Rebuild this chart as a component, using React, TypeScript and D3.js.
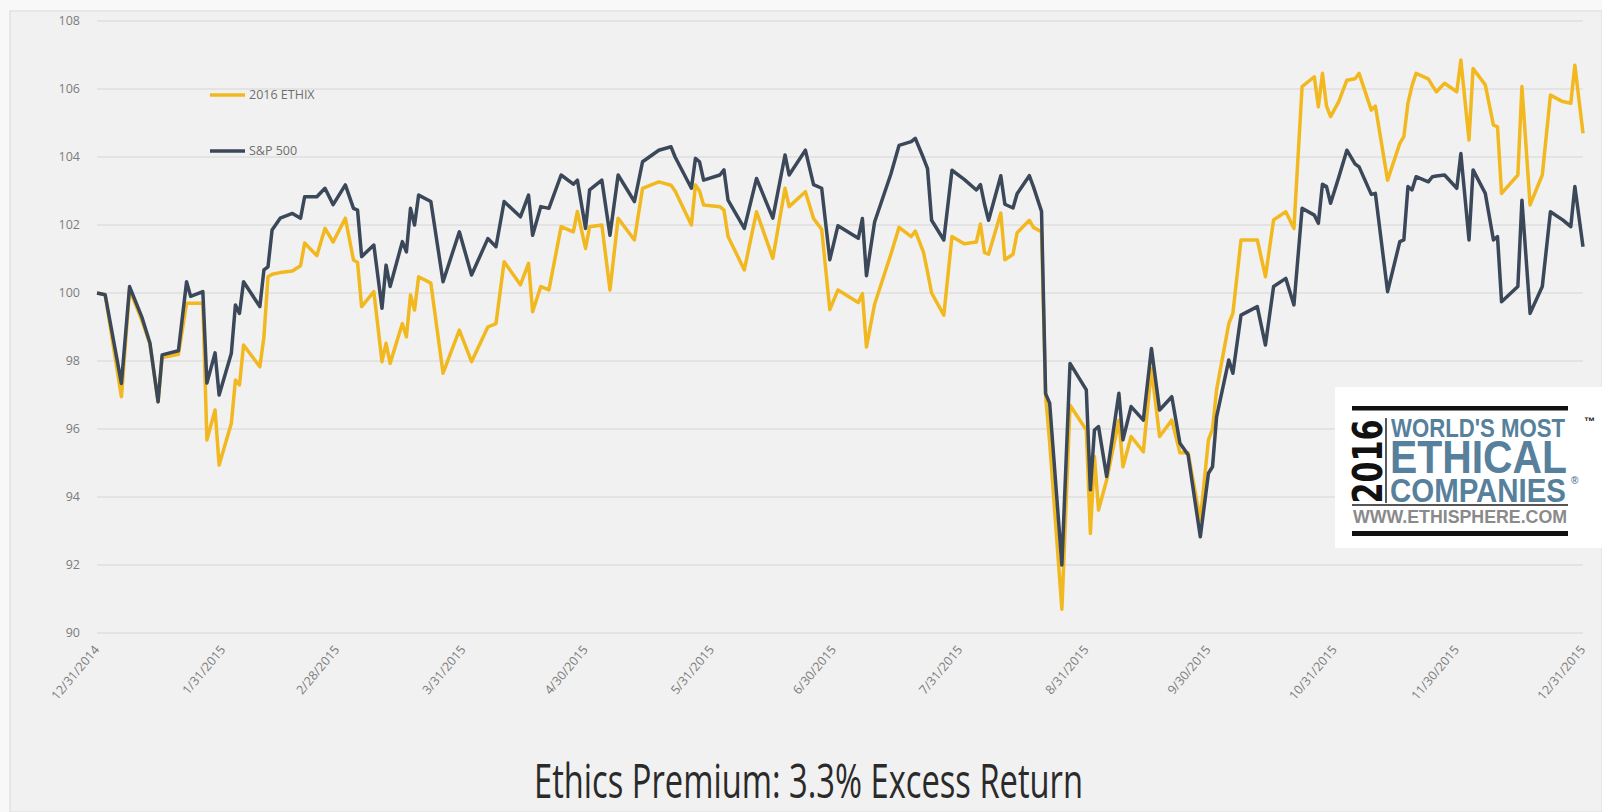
import React from 'react';
import * as d3 from 'd3';

const dates: string[] = [
  '2014-12-31','2015-01-02','2015-01-06','2015-01-08','2015-01-11','2015-01-13','2015-01-15','2015-01-16','2015-01-20','2015-01-22',
  '2015-01-23','2015-01-26','2015-01-27','2015-01-29','2015-01-30','2015-02-02','2015-02-03','2015-02-04','2015-02-05','2015-02-09',
  '2015-02-10','2015-02-11','2015-02-12','2015-02-14','2015-02-17','2015-02-19','2015-02-20','2015-02-23','2015-02-25','2015-02-27',
  '2015-03-02','2015-03-04','2015-03-05','2015-03-06','2015-03-09','2015-03-11','2015-03-12','2015-03-13','2015-03-16','2015-03-17',
  '2015-03-18','2015-03-19','2015-03-20','2015-03-23','2015-03-26','2015-03-30','2015-04-02','2015-04-06','2015-04-08','2015-04-10',
  '2015-04-14','2015-04-16','2015-04-17','2015-04-19','2015-04-21','2015-04-24','2015-04-27','2015-04-28','2015-04-30','2015-05-01',
  '2015-05-04','2015-05-06','2015-05-08','2015-05-12','2015-05-14','2015-05-18','2015-05-21','2015-05-22','2015-05-26','2015-05-27',
  '2015-05-28','2015-05-29','2015-06-02','2015-06-03','2015-06-04','2015-06-08','2015-06-11','2015-06-15','2015-06-18','2015-06-19',
  '2015-06-23','2015-06-25','2015-06-27','2015-06-29','2015-07-01','2015-07-06','2015-07-07','2015-07-08','2015-07-10','2015-07-14',
  '2015-07-16','2015-07-19','2015-07-20','2015-07-22','2015-07-23','2015-07-24','2015-07-27','2015-07-29','2015-08-01','2015-08-04',
  '2015-08-05','2015-08-06','2015-08-07','2015-08-10','2015-08-11','2015-08-13','2015-08-14','2015-08-17','2015-08-18','2015-08-20',
  '2015-08-21','2015-08-22','2015-08-25','2015-08-27','2015-08-31','2015-09-01','2015-09-02','2015-09-03','2015-09-05','2015-09-08',
  '2015-09-09','2015-09-11','2015-09-14','2015-09-16','2015-09-18','2015-09-21','2015-09-23','2015-09-25','2015-09-28','2015-09-30',
  '2015-10-01','2015-10-02','2015-10-05','2015-10-06','2015-10-08','2015-10-12','2015-10-14','2015-10-16','2015-10-19','2015-10-21',
  '2015-10-23','2015-10-26','2015-10-27','2015-10-28','2015-10-29','2015-10-30','2015-11-01','2015-11-03','2015-11-05','2015-11-06',
  '2015-11-09','2015-11-10','2015-11-13','2015-11-16','2015-11-17','2015-11-18','2015-11-19','2015-11-20','2015-11-23','2015-11-24',
  '2015-11-25','2015-11-27','2015-11-30','2015-12-01','2015-12-03','2015-12-04','2015-12-07','2015-12-09','2015-12-10','2015-12-11',
  '2015-12-15','2015-12-16','2015-12-18','2015-12-21','2015-12-23','2015-12-26','2015-12-28','2015-12-29','2015-12-31',
];

const ethix: number[] = [
  100.0, 99.95, 96.95, 100.1, 99.2, 98.5, 96.8, 98.1, 98.2, 99.7,
  99.7, 99.7, 95.68, 96.56, 94.94, 96.17, 97.44, 97.3, 98.47, 97.83,
  98.7, 100.48, 100.55, 100.6, 100.65, 100.8, 101.47, 101.1, 101.9, 101.5,
  102.2, 100.97, 100.9, 99.6, 100.04, 97.98, 98.52, 97.93, 99.1, 98.71,
  99.94, 99.5, 100.48, 100.29, 97.64, 98.91, 97.98, 99.0, 99.1, 100.92,
  100.24, 100.87, 99.45, 100.19, 100.09, 101.95, 101.8, 102.4, 101.31, 101.95,
  102.0, 100.09, 102.2, 101.56, 103.08, 103.27, 103.17, 103.0, 102.0, 103.18,
  103.0, 102.59, 102.54, 102.44, 101.66, 100.68, 102.39, 101.02, 103.08, 102.54,
  102.98, 102.19, 101.87, 99.51, 100.09, 99.72, 99.98, 98.41, 99.67, 101.14,
  101.93, 101.66, 101.82, 101.2, 100.62, 100.0, 99.35, 101.66, 101.45, 101.5,
  102.03, 101.19, 101.14, 102.35, 100.98, 101.14, 101.77, 102.14, 101.93, 101.8,
  97.0, 95.6, 90.7, 96.7, 95.97, 92.93, 95.19, 93.62, 94.5, 96.26,
  94.89, 95.78, 95.33, 97.78, 95.78, 96.26, 95.3, 95.3, 93.32, 95.68,
  96.0, 97.15, 99.1, 99.4, 101.56, 101.56, 100.48, 102.15, 102.39, 101.9,
  106.07, 106.36, 105.48, 106.46, 105.5, 105.19, 105.63, 106.26, 106.3, 106.46,
  105.38, 105.5, 103.32, 104.4, 104.6, 105.58, 106.1, 106.46, 106.3, 106.1,
  105.92, 106.17, 105.92, 106.85, 104.5, 106.6, 106.12, 104.94, 104.89, 102.93,
  103.47, 106.07, 102.59, 103.47, 105.82, 105.63, 105.58, 106.7, 104.7,
];

const sp500: number[] = [
  100.0, 99.95, 97.34, 100.19, 99.3, 98.53, 96.8, 98.18, 98.3, 100.33,
  99.9, 100.04, 97.35, 98.24, 97.0, 98.23, 99.65, 99.4, 100.33, 99.6,
  100.68, 100.77, 101.85, 102.2, 102.34, 102.2, 102.83, 102.83, 103.08, 102.6,
  103.18, 102.49, 102.44, 101.07, 101.41, 99.55, 100.82, 100.19, 101.51, 101.21,
  102.49, 102.0, 102.88, 102.69, 100.33, 101.8, 100.53, 101.6, 101.36, 102.69,
  102.24, 102.88, 101.7, 102.54, 102.49, 103.47, 103.2, 103.32, 101.9, 103.03,
  103.32, 101.7, 103.47, 102.69, 103.86, 104.2, 104.3, 104.0, 103.08, 103.96,
  103.86, 103.32, 103.47, 103.62, 102.73, 101.9, 103.37, 102.2, 104.06, 103.47,
  104.2, 103.19, 103.08, 100.98, 101.98, 101.61, 102.19, 100.51, 102.09, 103.5,
  104.34, 104.45, 104.55, 103.97, 103.66, 102.14, 101.56, 103.61, 103.34, 103.03,
  103.19, 102.61, 102.14, 103.45, 102.61, 102.5, 102.92, 103.45, 103.13, 102.4,
  97.04, 96.76, 92.0, 97.93, 97.15, 94.21, 95.97, 96.07, 94.6, 97.05,
  95.68, 96.66, 96.26, 98.37, 96.56, 96.95, 95.58, 95.24, 92.83, 94.7,
  94.89, 96.36, 98.03, 97.64, 99.35, 99.6, 98.47, 100.19, 100.43, 99.65,
  102.49, 102.29, 102.05, 103.2, 103.13, 102.64, 103.4, 104.2, 103.8, 103.71,
  102.9, 102.93, 100.04, 101.51, 101.56, 103.13, 103.03, 103.42, 103.27, 103.42,
  103.44, 103.47, 103.08, 104.1, 101.56, 103.62, 102.93, 101.56, 101.66, 99.74,
  100.19, 102.73, 99.4, 100.19, 102.39, 102.15, 101.95, 103.13, 101.36,
];

const seriesNames: string[] = ['2016 ETHIX', 'S&P 500'];
const yTicks: number[] = [90, 92, 94, 96, 98, 100, 102, 104, 106, 108];
const xTickDates: string[] = [
  '2014-12-31','2015-01-31','2015-02-28','2015-03-31','2015-04-30','2015-05-31','2015-06-30',
  '2015-07-31','2015-08-31','2015-09-30','2015-10-31','2015-11-30','2015-12-31',
];
const xTickLabels: string[] = [
  '12/31/2014','1/31/2015','2/28/2015','3/31/2015','4/30/2015','5/31/2015','6/30/2015',
  '7/31/2015','8/31/2015','9/30/2015','10/31/2015','11/30/2015','12/31/2015',
];
const title = 'Ethics Premium: 3.3% Excess Return';

const W = 1602;
const H = 812;
const COLORS = ['#f2b81f', '#3b4859'];

export default function App() {
  const parse = d3.utcParse('%Y-%m-%d');
  const x = d3.scaleUtc()
    .domain([parse('2014-12-31') as Date, parse('2015-12-31') as Date])
    .range([97, 1583]);
  const y = d3.scaleLinear().domain([90, 108]).range([633, 21]);

  const pts = dates.map((d, i) => ({ d: parse(d) as Date, e: ethix[i], s: sp500[i] }));
  const lineE = d3.line<any>().x((p) => x(p.d)).y((p) => y(p.e)).curve(d3.curveLinear);
  const lineS = d3.line<any>().x((p) => x(p.d)).y((p) => y(p.s)).curve(d3.curveLinear);

  const font = '"Open Sans", "Noto Sans", sans-serif';
  const logoFont = '"Liberation Sans", Arial, sans-serif';
  const logoBlue = '#56809b';

  return (
    <svg width={W} height={H} style={{ position: 'absolute', left: 0, top: 0, display: 'block' }}>
      <rect x={0} y={0} width={W} height={H} fill="#f8f8f8" />
      <rect x={10} y={11} width={W - 10} height={H - 11} fill="#f1f1f1" stroke="#e2e2e2" strokeWidth={1.5} />

      {/* gridlines */}
      {yTicks.map((t) => (
        <g key={t}>
          <line x1={97} x2={1583} y1={y(t)} y2={y(t)} stroke="#dedede" strokeWidth={1.5} />
          <text x={80} y={y(t)} dy="0.35em" textAnchor="end" fontFamily={font} fontSize={12.5} fill="#7c7c7c">{t}</text>
        </g>
      ))}

      {/* x labels */}
      {xTickDates.map((d, i) => {
        const px = x(parse(d) as Date) + 3;
        const py = 650;
        return (
          <text key={d} x={px} y={py} transform={`rotate(-50 ${px} ${py})`} textAnchor="end" fontFamily={font} fontSize={12.5} fill="#7c7c7c">
            {xTickLabels[i]}
          </text>
        );
      })}

      {/* lines */}
      <path d={lineE(pts) || ''} fill="none" stroke={COLORS[0]} strokeWidth={3.5} strokeLinejoin="round" />
      <path d={lineS(pts) || ''} fill="none" stroke={COLORS[1]} strokeWidth={3.5} strokeLinejoin="round" />

      {/* legend */}
      {seriesNames.map((n, i) => {
        const ly = i === 0 ? 95 : 151;
        return (
          <g key={n}>
            <line x1={210} x2={245} y1={ly} y2={ly} stroke={COLORS[i]} strokeWidth={3.5} />
            <text x={249} y={ly} dy="0.35em" fontFamily={font} fontSize={12.5} fill="#6e6e6e">{n}</text>
          </g>
        );
      })}

      {/* logo */}
      <g>
        <rect x={1335} y={387} width={267} height={161} fill="#ffffff" />
        <rect x={1352} y={406} width={216} height={4.5} fill="#111" />
        <text x={1368} y={461.5} transform="rotate(-90 1368 461.5)" textAnchor="middle" dominantBaseline="central"
          fontFamily='"DejaVu Sans", sans-serif' fontWeight="bold" fontSize={40} fill="#111"
          textLength={84} lengthAdjust="spacingAndGlyphs">2016</text>
        <line x1={1386} x2={1386} y1={418} y2={503} stroke="#222" strokeWidth={1.5} />
        <text x={1391} y={436.5} fontFamily={logoFont} fontWeight="bold" fontSize={26}
          fill={logoBlue} textLength={174} lengthAdjust="spacingAndGlyphs">WORLD'S MOST</text>
        <text x={1584} y={425} fontFamily={logoFont} fontWeight="bold" fontSize={11} fill="#111">™</text>
        <text x={1390} y={473} fontFamily={logoFont} fontWeight="bold" fontSize={46}
          fill={logoBlue} textLength={177} lengthAdjust="spacingAndGlyphs">ETHICAL</text>
        <text x={1390} y={501.5} fontFamily={logoFont} fontWeight="bold" fontSize={33}
          fill={logoBlue} textLength={176} lengthAdjust="spacingAndGlyphs">COMPANIES</text>
        <text x={1571} y={484} fontFamily={logoFont} fontWeight="bold" fontSize={10} fill={logoBlue}>®</text>
        <rect x={1352} y={504} width={216} height={2} fill="#555" />
        <text x={1353} y={523} fontFamily={logoFont} fontWeight="bold" fontSize={19}
          fill="#8a8a8a" textLength={214} lengthAdjust="spacingAndGlyphs">WWW.ETHISPHERE.COM</text>
        <rect x={1352} y={531} width={216} height={5} fill="#111" />
      </g>

      {/* title */}
      <text x={534} y={798} fontFamily={font} fontSize={48} fill="#2a2a2a"
        textLength={549} lengthAdjust="spacingAndGlyphs">{title}</text>
    </svg>
  );
}
